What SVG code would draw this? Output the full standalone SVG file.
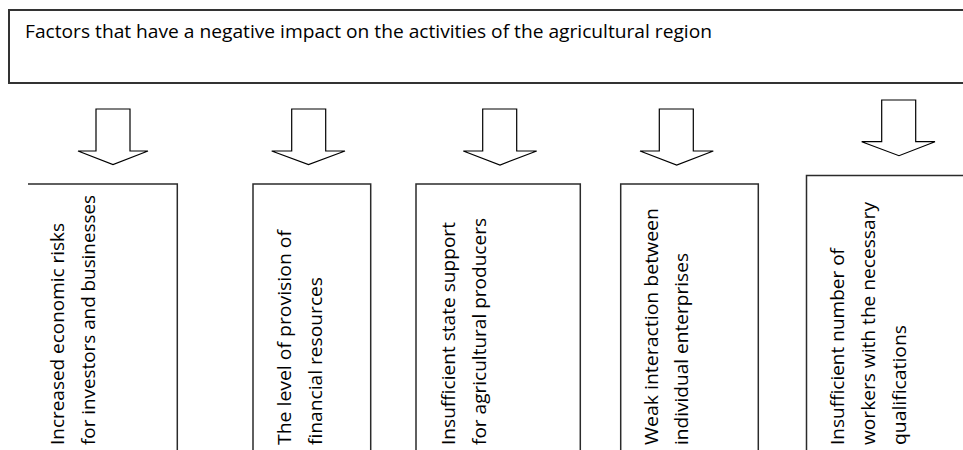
<svg xmlns="http://www.w3.org/2000/svg" width="963" height="450" viewBox="0 0 963 450">
<style>
  .bg { fill: #ffffff; }
  .frame { fill: none; stroke: #2b2b2b; stroke-width: 1.5; }
  .head { fill: none; stroke: #333333; stroke-width: 2; }
  .arrow { fill: #ffffff; stroke: #000000; stroke-width: 1.2; stroke-linejoin: miter; }
  .t { font-family: "Open Sans", "Noto Sans", "Liberation Sans", sans-serif; font-size: 18px; fill: #000000; }
</style>
<rect class="bg" x="0" y="0" width="963" height="450"/>

<g id="header">
  <path class="head" d="M963,10 H9 V83 H963"/>
  <text class="t" x="25" y="37.5" textLength="687" lengthAdjust="spacingAndGlyphs">Factors that have a negative impact on the activities of the agricultural region</text>
</g>

<g id="connectors">
  <polygon class="arrow" points="96,109 130,109 130,151 148,151 113,164.5 78,151 96,151"/>
  <polygon class="arrow" points="291.7,109 325.7,109 325.7,151 345,151 308.5,164.5 271.7,151 291.7,151"/>
  <polygon class="arrow" points="482.7,109 516.7,109 516.7,151 536.7,151 500,165 463.3,151 482.7,151"/>
  <polygon class="arrow" points="659.3,109 693.3,109 693.3,151 713.3,151 676.7,165 640,151 659.3,151"/>
  <polygon class="arrow" points="881.7,100 915.7,100 915.7,141.7 935,141.7 899,155.7 861.7,141.7 881.7,141.7"/>
</g>

<g id="node1">
  <path class="frame" d="M28,184 H177.3 V451"/>
  <text class="t" transform="translate(64,445) rotate(-90)" textLength="222" lengthAdjust="spacingAndGlyphs">Increased economic risks</text>
  <text class="t" transform="translate(95,445) rotate(-90)" textLength="250" lengthAdjust="spacingAndGlyphs">for investors and businesses</text>
</g>

<g id="node2">
  <path class="frame" d="M253,451 V184 H370.7 V451"/>
  <text class="t" transform="translate(291,445) rotate(-90)" textLength="215" lengthAdjust="spacingAndGlyphs">The level of provision of</text>
  <text class="t" transform="translate(322,445) rotate(-90)" textLength="168" lengthAdjust="spacingAndGlyphs">financial resources</text>
</g>

<g id="node3">
  <path class="frame" d="M416,451 V184 H580.3 V451"/>
  <text class="t" transform="translate(455,445) rotate(-90)" textLength="223" lengthAdjust="spacingAndGlyphs">Insufficient state support</text>
  <text class="t" transform="translate(486,445) rotate(-90)" textLength="227" lengthAdjust="spacingAndGlyphs">for agricultural producers</text>
</g>

<g id="node4">
  <path class="frame" d="M620.7,451 V184 H758.3 V451"/>
  <text class="t" transform="translate(658,445) rotate(-90)" textLength="237" lengthAdjust="spacingAndGlyphs">Weak interaction between</text>
  <text class="t" transform="translate(688,445) rotate(-90)" textLength="192" lengthAdjust="spacingAndGlyphs">individual enterprises</text>
</g>

<g id="node5">
  <path class="frame" d="M806.5,451 V175.5 H964"/>
  <text class="t" transform="translate(844,445) rotate(-90)" textLength="197" lengthAdjust="spacingAndGlyphs">Insufficient number of</text>
  <text class="t" transform="translate(875,445) rotate(-90)" textLength="243" lengthAdjust="spacingAndGlyphs">workers with the necessary</text>
  <text class="t" transform="translate(906,445) rotate(-90)" textLength="120" lengthAdjust="spacingAndGlyphs">qualifications</text>
</g>
</svg>
